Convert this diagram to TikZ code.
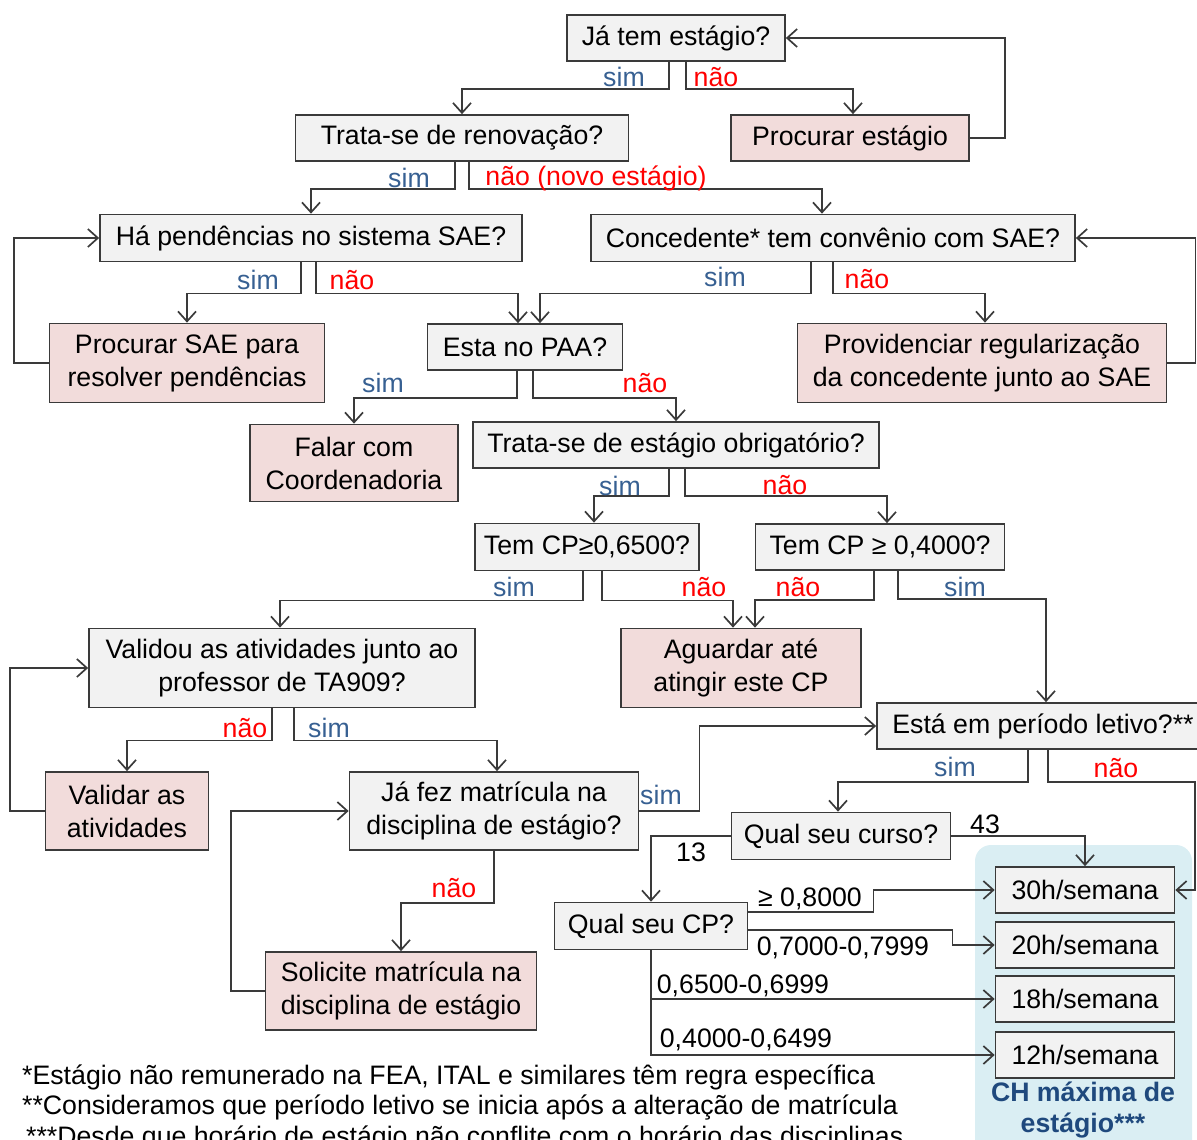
\documentclass[tikz,border=0pt]{standalone}
\usepackage{fontspec}
\setmainfont{Liberation Sans}
\usetikzlibrary{calc}
\usetikzlibrary{arrows.meta}
\usepackage{xcolor}
\definecolor{boxgray}{HTML}{F2F2F2}
\definecolor{boxpink}{HTML}{F2DCDB}
\definecolor{simblue}{HTML}{376092}
\definecolor{naored}{HTML}{FF0000}
\definecolor{chback}{HTML}{DAEEF3}
\definecolor{chtext}{HTML}{1F497D}
\definecolor{lineclr}{HTML}{3A3A3A}

\begin{document}
\begin{tikzpicture}[x=1pt, y=-1pt,
  every node/.style={font=\fontsize{26.7}{33}\selectfont},
  qbox/.style={draw=lineclr, line width=1.7pt, fill=boxgray, inner sep=1pt, align=center},
  abox/.style={qbox, fill=boxpink},
  simlbl/.style={text=simblue, inner sep=0pt},
  naolbl/.style={text=naored, inner sep=0pt},
  numlbl/.style={text=black, inner sep=0pt},
  arr/.style={draw=lineclr, line width=1.7pt, -{Straight Barb[length=10pt,width=18pt,line width=1.7pt]}}]
\useasboundingbox (0,0) rectangle (1197,1140);

\fill[chback, rounded corners=16pt] (975,845) rectangle (1192,1170);

\node[qbox, minimum width=218, minimum height=46] (ja) at (676,38) {Já tem estágio?};
\node[abox, minimum width=238, minimum height=46] (proc_est) at (850,138) {Procurar estágio};
\node[qbox, minimum width=333, minimum height=46] (renov) at (462,138) {Trata-se de renovação?};
\node[qbox, minimum width=422, minimum height=47] (pend) at (311,238) {Há pendências no sistema SAE?};
\node[qbox, minimum width=484, minimum height=47] (conv) at (833,238) {Concedente* tem convênio com SAE?};
\node[abox, minimum width=275, minimum height=79] (proc_sae) at (187,363) {Procurar SAE para\\resolver pendências};
\node[qbox, minimum width=195, minimum height=46] (paa) at (525,347) {Esta no PAA?};
\node[abox, minimum width=369, minimum height=79] (provid) at (982,363) {Providenciar regularização\\da concedente junto ao SAE};
\node[abox, minimum width=208, minimum height=77] (falar) at (354,463) {Falar com\\Coordenadoria};
\node[qbox, minimum width=406, minimum height=46] (obrig) at (676,445) {Trata-se de estágio obrigatório?};
\node[qbox, minimum width=224, minimum height=47] (cp65) at (587,547) {Tem CP≥0,6500?};
\node[qbox, minimum width=249, minimum height=46] (cp40) at (880,547) {Tem CP ≥ 0,4000?};
\node[qbox, minimum width=386, minimum height=79] (valid) at (282,668) {Validou as atividades junto ao\\professor de TA909?};
\node[abox, minimum width=240, minimum height=79] (aguardar) at (741,668) {Aguardar até\\atingir este CP};
\node[qbox, minimum width=332, minimum height=46] (periodo) at (1043,726) {Está em período letivo?**};
\node[abox, minimum width=163, minimum height=78] (valat) at (127,811) {Validar as\\atividades};
\node[qbox, minimum width=289, minimum height=78] (matric) at (494,811) {Já fez matrícula na\\disciplina de estágio?};
\node[qbox, minimum width=219, minimum height=47] (curso) at (841,836) {Qual seu curso?};
\node[qbox, minimum width=193, minimum height=47] (cp) at (651,926) {Qual seu CP?};
\node[abox, minimum width=271, minimum height=78] (solic) at (401,991) {Solicite matrícula na\\disciplina de estágio};
\node[qbox, minimum width=179, minimum height=46] (h30) at (1085,890) {30h/semana};
\node[qbox, minimum width=179, minimum height=46] (h20) at (1085,945) {20h/semana};
\node[qbox, minimum width=179, minimum height=46] (h18) at (1085,999) {18h/semana};
\node[qbox, minimum width=179, minimum height=46] (h12) at (1085,1055) {12h/semana};
\node[text=chtext, font=\fontsize{26.7}{31}\selectfont\bfseries, align=center, inner sep=0pt] (chlbl) at (1083,1110) {CH máxima de\\estágio***};

\draw[arr] ([xshift=-7pt]ja.south) -- ++(0,27) -| (renov.north);
\draw[arr] ([xshift=10pt]ja.south) -- ++(0,27) -| ([xshift=3pt]proc_est.north);
\draw[arr] (proc_est.east) -- ++(35,0) |- (ja.east);
\draw[arr] ([xshift=-7pt]renov.south) -- ++(0,27) -| (pend.north);
\draw[arr] ([xshift=7pt]renov.south) -- ++(0,27) -| ([xshift=-11pt]conv.north);
\draw[arr] ([xshift=-10pt]pend.south) -- ++(0,31) -| (proc_sae.north);
\draw[arr] ([xshift=5pt]pend.south) -- ++(0,31) -| ([xshift=-7pt]paa.north);
\draw[arr] ([xshift=-22pt]conv.south) -- ++(0,31) -| ([xshift=15pt]paa.north);
\draw[arr] (conv.south) -- ++(0,31) -| ([xshift=3pt]provid.north);
\draw[arr] (provid.east) -- ++(28,0) |- (conv.east);
\draw[arr] (proc_sae.west) -- ++(-35,0) |- (pend.west);
\draw[arr] ([xshift=-8pt]paa.south) -- ++(0,27) -| (falar.north);
\draw[arr] ([xshift=8pt]paa.south) -- ++(0,27) -| (obrig.north);
\draw[arr] ([xshift=-7pt]obrig.south) -- ++(0,27) -| ([xshift=7pt]cp65.north);
\draw[arr] ([xshift=9pt]obrig.south) -- ++(0,27) -| ([xshift=7pt]cp40.north);
\draw[arr] ([xshift=-4pt]cp65.south) -- ++(0,29) -| ([xshift=-2pt]valid.north);
\draw[arr] ([xshift=15pt]cp65.south) -- ++(0,29) -| ([xshift=-8pt]aguardar.north);
\draw[arr] ([xshift=-6pt]cp40.south) -- ++(0,29) -| ([xshift=14pt]aguardar.north);
\draw[arr] ([xshift=18pt]cp40.south) -- ++(0,28) -| ([xshift=3pt]periodo.north);
\draw[arr] ([xshift=-10pt]valid.south) -- ++(0,32) -| (valat.north);
\draw[arr] ([xshift=12pt]valid.south) -- ++(0,32) -| ([xshift=3pt]matric.north);
\draw[arr] (valat.west) -- ++(-35,0) |- (valid.west);
\draw[arr] (solic.west) -- ++(-34,0) |- (matric.west);
\draw[arr] (matric.south) -- ++(0,52) -| (solic.north);
\draw[arr] (matric.east) -- ++(60,0) |- (periodo.west);
\draw[arr] ([xshift=-15pt]periodo.south) -- ++(0,32) -| ([xshift=-3pt]curso.north);
\draw[arr] ([xshift=5pt]periodo.south) -- ++(0,32) -- ++(147,0) |- (h30.east);
\draw[arr] (curso.east) -| (h30.north);
\draw[arr] (curso.west) -| (cp.north);
\draw[arr] ([yshift=14pt]cp.east) -- ++(125,0) |- (h30.west);
\draw[arr] ([yshift=-4pt]cp.east) -- ++(204,0) |- (h20.west);
\draw[arr] (cp.south) |- (h18.west);
\draw[arr] (cp.south) |- (h12.west);

\node[simlbl] (s_ja) at (624,77) {sim};
\node[naolbl] (n_ja) at (716,77) {não};
\node[simlbl] (s_renov) at (409,178) {sim};
\node[naolbl] (n_renov) at (596,178) {não (novo estágio)};
\node[simlbl] (s_pend) at (258,280) {sim};
\node[naolbl] (n_pend) at (352,280) {não};
\node[simlbl] (s_conv) at (725,277) {sim};
\node[naolbl] (n_conv) at (867,279) {não};
\node[simlbl] (s_paa) at (383,383) {sim};
\node[naolbl] (n_paa) at (645,383) {não};
\node[simlbl] (s_obrig) at (620,486) {sim};
\node[naolbl] (n_obrig) at (785,485) {não};
\node[simlbl] (s_cp65) at (514,587) {sim};
\node[naolbl] (n_cp65) at (704,587) {não};
\node[naolbl] (n_cp40) at (798,587) {não};
\node[simlbl] (s_cp40) at (965,587) {sim};
\node[naolbl] (n_valid) at (245,728) {não};
\node[simlbl] (s_valid) at (329,728) {sim};
\node[simlbl] (s_matric) at (661,795) {sim};
\node[naolbl] (n_matric) at (454,888) {não};
\node[simlbl] (s_periodo) at (955,767) {sim};
\node[naolbl] (n_periodo) at (1116,768) {não};
\node[numlbl] (c43) at (985,824) {43};
\node[numlbl] (c13) at (691,852) {13};
\node[numlbl] (r80) at (810,899) {≥ 0,8000};
\node[numlbl] (r70) at (843,948) {0,7000-0,7999};
\node[numlbl] (r65) at (743,986) {0,6500-0,6999};
\node[numlbl] (r40) at (746,1040) {0,4000-0,6499};

\node[anchor=west, inner sep=0pt] (note1) at (22,1077) {*Estágio não remunerado na FEA, ITAL e similares têm regra específica};
\node[anchor=west, inner sep=0pt] (note2) at (22,1107) {**Consideramos que período letivo se inicia após a alteração de matrícula};
\node[anchor=west, inner sep=0pt] (note3) at (26,1138) {***Desde que horário de estágio não conflite com o horário das disciplinas};
\end{tikzpicture}
\end{document}
